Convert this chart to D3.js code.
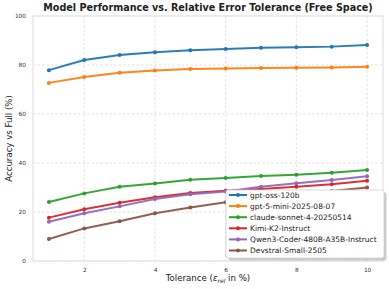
<!DOCTYPE html>
<html><head><meta charset="utf-8">
<script src="https://cdn.jsdelivr.net/npm/d3@7"></script>
<style>body{margin:0;background:#fff}svg{display:block;font-family:"DejaVu Sans",sans-serif}</style>
</head><body><svg id="c" width="389" height="289"></svg>
<script>
const tolerances = [1,2,3,4,5,6,7,8,9,10];
const seriesNames = ["gpt-oss-120b","gpt-5-mini-2025-08-07","claude-sonnet-4-20250514","Kimi-K2-Instruct","Qwen3-Coder-480B-A35B-Instruct","Devstral-Small-2505"];
const gptOss = [77.9,82.0,84.1,85.2,86.0,86.5,87.0,87.2,87.5,88.2];
const gpt5Mini = [72.7,75.1,76.8,77.8,78.4,78.6,78.8,78.9,79.0,79.3];
const claude = [24.1,27.6,30.3,31.6,33.2,33.9,34.7,35.2,36.0,37.1];
const kimi = [17.7,21.1,23.8,26.0,27.8,28.7,29.4,30.3,31.3,32.8];
const qwen = [16.0,19.5,22.3,25.3,27.2,28.4,30.3,31.7,33.1,34.6];
const devstral = [9.0,13.3,16.2,19.5,21.8,24.0,25.6,27.2,28.6,30.0];
const colors = ["#1f77b4","#ff7f0e","#2ca02c","#d62728","#9467bd","#8c564b"];
const yTicks = [0,20,40,60,80,100];
const xTicks = [2,4,6,8,10];
const allSeries = [gptOss,gpt5Mini,claude,kimi,qwen,devstral];

const svg = d3.select("#c");
const L=33, R=383, T=16, B=261;
const x = d3.scaleLinear().domain([0.55,10.45]).range([L,R]);
const y = d3.scaleLinear().domain([0,100]).range([B,T]);

// grid
const g = svg.append("g");
g.selectAll(".gy").data(yTicks).join("line")
  .attr("x1",L).attr("x2",R).attr("y1",d=>y(d)).attr("y2",d=>y(d))
  .attr("stroke","#d9d9d9").attr("stroke-width",0.8).attr("stroke-dasharray","2.5,2");
g.selectAll(".gx").data(xTicks).join("line")
  .attr("y1",T).attr("y2",B).attr("x1",d=>x(d)).attr("x2",d=>x(d))
  .attr("stroke","#d9d9d9").attr("stroke-width",0.8).attr("stroke-dasharray","2.5,2");
// spines
svg.append("rect").attr("x",L).attr("y",T).attr("width",R-L).attr("height",B-T)
  .attr("fill","none").attr("stroke","#e3e3e3").attr("stroke-width",1.2);

// axes via d3
const xa = svg.append("g").attr("transform",`translate(0,${B})`)
  .call(d3.axisBottom(x).tickValues(xTicks).tickSize(0).tickPadding(7));
const ya = svg.append("g").attr("transform",`translate(${L},0)`)
  .call(d3.axisLeft(y).tickValues(yTicks).tickSize(0).tickPadding(7));
[xa,ya].forEach(a=>{a.select(".domain").remove();
  a.selectAll("text").attr("font-size",5.8).attr("fill","#333").attr("font-family","DejaVu Sans");});

// lines
const line = d3.line().x((d,i)=>x(tolerances[i])).y(d=>y(d));
allSeries.forEach((s,k)=>{
  svg.append("path").datum(s).attr("d",line).attr("fill","none")
    .attr("stroke",colors[k]).attr("stroke-width",2).attr("opacity",0.95);
  svg.append("g").selectAll("circle").data(s).join("circle")
    .attr("cx",(d,i)=>x(tolerances[i])).attr("cy",d=>y(d)).attr("r",2)
    .attr("fill",colors[k]);
});

// legend
const lx=226, ly=190, lw=158, lh=68;
svg.append("rect").attr("x",lx+2.5).attr("y",ly+2.5).attr("width",lw).attr("height",lh)
  .attr("rx",2).attr("fill","#999").attr("opacity",0.5);
svg.append("rect").attr("x",lx).attr("y",ly).attr("width",lw).attr("height",lh)
  .attr("rx",2).attr("fill","#fff").attr("stroke","#d0d0d0").attr("stroke-width",0.8);
seriesNames.forEach((n,k)=>{
  const yy = ly+5+k*11.1;
  svg.append("line").attr("x1",lx+3).attr("x2",lx+21).attr("y1",yy).attr("y2",yy)
    .attr("stroke",colors[k]).attr("stroke-width",2);
  svg.append("circle").attr("cx",lx+12).attr("cy",yy).attr("r",2).attr("fill",colors[k]);
  svg.append("text").attr("x",lx+24).attr("y",yy).attr("dy","0.35em")
    .attr("font-size",7.5).attr("fill","#222").text(n);
});

// title & labels
svg.append("text").attr("x",(L+R)/2).attr("y",11).attr("text-anchor","middle")
  .attr("font-size",9.6).attr("font-weight","bold").attr("fill","#222")
  .text("Model Performance vs. Relative Error Tolerance (Free Space)");
const xl = svg.append("text").attr("x",(L+R)/2).attr("y",281).attr("text-anchor","middle")
  .attr("font-size",8.6).attr("fill","#222");
xl.append("tspan").text("Tolerance (");
xl.append("tspan").attr("font-style","italic").text("ε");
xl.append("tspan").attr("font-style","italic").attr("font-size",6).attr("dy",1.5).text("rel");
xl.append("tspan").attr("dy",-1.5).text(" in %)");
svg.append("text").attr("transform",`translate(12,${(T+B)/2}) rotate(-90)`)
  .attr("text-anchor","middle").attr("font-size",8.6).attr("fill","#222")
  .text("Accuracy vs Full (%)");
</script></body></html>
